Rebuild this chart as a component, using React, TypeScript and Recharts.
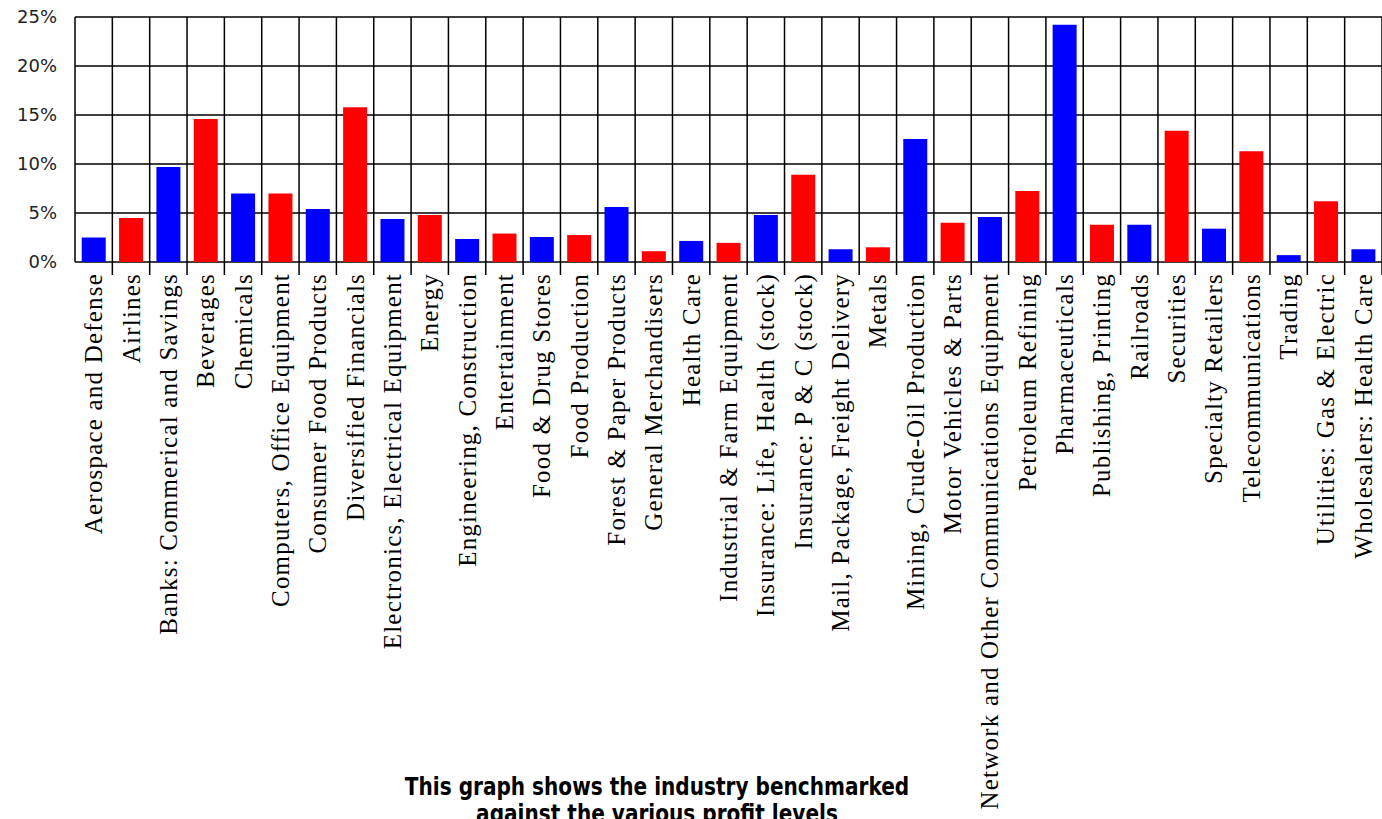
import React from 'react';
import { BarChart, Bar, Cell, XAxis, YAxis, CartesianGrid } from 'recharts';

const CATEGORIES = [
  'Aerospace and Defense',
  'Airlines',
  'Banks: Commerical and Savings',
  'Beverages',
  'Chemicals',
  'Computers, Office Equipment',
  'Consumer Food Products',
  'Diversified Financials',
  'Electronics, Electrical Equipment',
  'Energy',
  'Engineering, Construction',
  'Entertainment',
  'Food & Drug Stores',
  'Food Production',
  'Forest & Paper Products',
  'General Merchandisers',
  'Health Care',
  'Industrial & Farm Equipment',
  'Insurance: Life, Health (stock)',
  'Insurance: P & C (stock)',
  'Mail, Package, Freight Delivery',
  'Metals',
  'Mining, Crude-Oil Production',
  'Motor Vehicles & Parts',
  'Network and Other Communications Equipment',
  'Petroleum Refining',
  'Pharmaceuticals',
  'Publishing, Printing',
  'Railroads',
  'Securities',
  'Specialty Retailers',
  'Telecommunications',
  'Trading',
  'Utilities: Gas & Electric',
  'Wholesalers: Health Care',
];

// profit, in percent
const PROFIT = [
  2.5, 4.5, 9.7, 14.6, 7.0, 7.0, 5.4, 15.8, 4.4, 4.8,
  2.35, 2.9, 2.55, 2.75, 5.6, 1.1, 2.15, 1.95, 4.8, 8.9,
  1.3, 1.5, 12.55, 4.0, 4.6, 7.25, 24.2, 3.8, 3.8, 13.4,
  3.4, 11.3, 0.7, 6.2, 1.3,
];

const Y_TICKS = [0, 5, 10, 15, 20, 25];

const TITLE = ['This graph shows the industry benchmarked', 'against the various profit levels'];

const data = CATEGORIES.map((name, i) => ({ name, profit: PROFIT[i] }));

const W = 1382;
const H = 819;

const CategoryTick = (props: any) => {
  const { x, y, payload } = props;
  const half = payload && payload.offset ? payload.offset : 18.67;
  return (
    <g>
      <line x1={x + half} y1={y} x2={x + half} y2={y + 13} stroke="#000" strokeWidth={1.5} />
      <text
        transform={`translate(${x},${y + 11}) rotate(-90)`}
        textAnchor="end"
        dominantBaseline="central"
        fontFamily="'Liberation Serif', serif"
        fontSize={25}
        letterSpacing={1.2}
        fill="#000"
      >
        {payload.value}
      </text>
    </g>
  );
};

export default function App() {
  return (
    <div style={{ position: 'absolute', left: 0, top: 0, width: W, height: H, background: '#fff', overflow: 'hidden' }}>
      <BarChart
        width={W}
        height={H}
        data={data}
        margin={{ top: 17, right: 0, left: 0, bottom: 0 }}
        barCategoryGap="18%"
      >
        <CartesianGrid
          stroke="#000"
          strokeWidth={1.5}
          verticalCoordinatesGenerator={({ offset }: any) =>
            Array.from({ length: CATEGORIES.length + 1 }, (_, i) => offset.left + (offset.width * i) / CATEGORIES.length)
          }
        />
        <XAxis
          dataKey="name"
          height={557}
          interval={0}
          axisLine={false}
          tickLine={false}
          tickSize={0}
          tickMargin={0}
          tick={CategoryTick}
        />
        <YAxis
          width={75}
          domain={[0, 25]}
          ticks={Y_TICKS}
          axisLine={false}
          tickLine={false}
          tickSize={0}
          tickMargin={18}
          tickFormatter={(v: number) => `${v}%`}
          tick={{ fill: '#222', fontSize: 18, fontFamily: "'DejaVu Sans', sans-serif" }}
        />
        <Bar dataKey="profit" isAnimationActive={false}>
          {data.map((_, i) => (
            <Cell key={i} fill={i % 2 === 0 ? '#0000ff' : '#ff0000'} />
          ))}
        </Bar>
      </BarChart>
      {/* two-line caption under the axis labels, condensed bold */}
      {TITLE.map((line, i) => (
        <div
          key={i}
          style={{
            position: 'absolute',
            left: 357,
            width: 600,
            top: 774 + i * 27,
            textAlign: 'center',
            fontFamily: "'Liberation Sans Narrow', 'DejaVu Sans Condensed', 'Liberation Sans', sans-serif",
            fontWeight: 'bold',
            fontSize: 24,
            lineHeight: '27px',
            color: '#000',
            whiteSpace: 'nowrap',
            transform: 'scaleX(0.93)',
            transformOrigin: '50% 50%',
          }}
        >
          {line}
        </div>
      ))}
    </div>
  );
}
